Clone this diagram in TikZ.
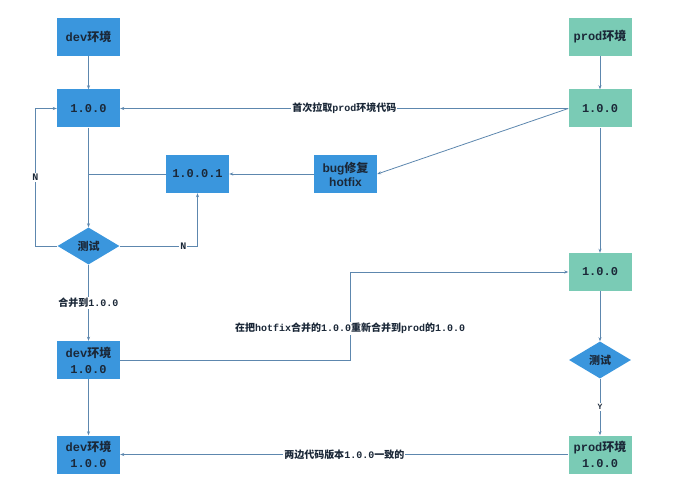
\documentclass[tikz,border=0pt]{standalone}
\usepackage{fontspec}
\setmainfont{Liberation Mono}
\newfontfamily\cjk{Noto Sans CJK SC}
\newfontfamily\sansfont{Liberation Sans}
\usetikzlibrary{calc,arrows.meta,shapes.geometric}
\newcommand\zh[1]{{\cjk #1}}
\definecolor{devblue}{HTML}{3A96DD}
\definecolor{prodgreen}{HTML}{7ACBB5}
\definecolor{linec}{HTML}{5D87AE}
\definecolor{inkc}{HTML}{1B2838}
\tikzset{
	box/.style={minimum width=63pt, minimum height=38pt, inner sep=0pt, align=center, text=inkc,
		font=\bfseries\fontsize{12}{16}\selectfont},
	devbox/.style={box, fill=devblue},
	prodbox/.style={box, fill=prodgreen},
	testbox/.style={diamond, fill=devblue, minimum width=62pt, minimum height=37pt, inner sep=0pt,
		text=inkc, font=\bfseries\fontsize{11}{13}\selectfont},
	arr/.style={draw=linec, line width=0.8pt, -{Stealth[length=4pt,width=3pt]}},
	wire/.style={draw=linec, line width=0.8pt},
	lbl/.style={fill=white, inner sep=1pt, text=inkc, font=\bfseries\fontsize{10}{12}\selectfont}
}

\begin{document}
\begin{tikzpicture}[x=1pt, y=-1pt]
			%%%%% START %%%%%
			\useasboundingbox (0, 0) rectangle (691, 500);
			
			% dev side
			\node[devbox] (devtop) at (88.5, 37) {dev\zh{环境}};
			\node[devbox] (dev100) at (88.5, 108.5) {1.0.0};
			\node[devbox] (v1001) at (197.5, 174) {1.0.0.1};
			\node[testbox] (test1) at (88.5, 246) {\zh{测试}};
			\node[devbox] (devmid) at (88.5, 360) {dev\zh{环境}\\1.0.0};
			\node[devbox] (devbot) at (88.5, 454.5) {dev\zh{环境}\\1.0.0};
			
			% hotfix
			\node[devbox, font=\sansfont\bfseries\fontsize{12}{14}\selectfont] (bug) at (345.5, 174) {bug\zh{修复}\\hotfix};
			
			% prod side
			\node[prodbox] (prodtop) at (600, 37) {prod\zh{环境}};
			\node[prodbox] (prod100) at (600, 108.5) {1.0.0};
			\node[prodbox] (prod2) at (600, 272) {1.0.0};
			\node[testbox] (test2) at (600, 360) {\zh{测试}};
			\node[prodbox] (prodbot) at (600, 454.5) {prod\zh{环境}\\1.0.0};
			
			% connectors
			\draw[arr] (devtop) -- (dev100);
			\draw[arr] (prodtop) -- (prod100);
			\draw[arr] (prod100.west) -- node[lbl] {\zh{首次拉取}prod\zh{环境代码}} (dev100.east);
			\draw[arr] (prod100.west) -- (bug.east);
			\draw[arr] (bug) -- (v1001);
			\draw[wire] (v1001.west) -- (v1001.west -| dev100.south);
			\draw[arr] (dev100) -- (test1);
			\draw[arr] (test1.west) -- ++(-22, 0) |- node[lbl, pos=0.25] {N} (dev100.west);
			\draw[arr] (test1.east) -| node[lbl, pos=0.41] {N} (v1001.south);
			\draw[arr] (test1) -- node[lbl] {\zh{合并到}1.0.0} (devmid);
			\draw[arr] (devmid) -- (devbot);
			\draw[arr] (devmid.east) -- ++(230, 0) |- node[lbl, pos=0.18] {\zh{在把}hotfix\zh{合并的}1.0.0\zh{重新合并到}prod\zh{的}1.0.0} (prod2.west);
			\draw[arr] (prod100) -- (prod2);
			\draw[arr] (prod2) -- (test2);
			\draw[arr] (test2) -- node[lbl, font=\bfseries\fontsize{8}{10}\selectfont] {Y} (prodbot);
			\draw[arr, {Stealth[length=4pt,width=3pt]}-] (devbot) -- node[lbl] {\zh{两边代码版本}1.0.0\zh{一致的}} (prodbot);
			
			%%%%% END %%%%%
		\end{tikzpicture}
\end{document}
